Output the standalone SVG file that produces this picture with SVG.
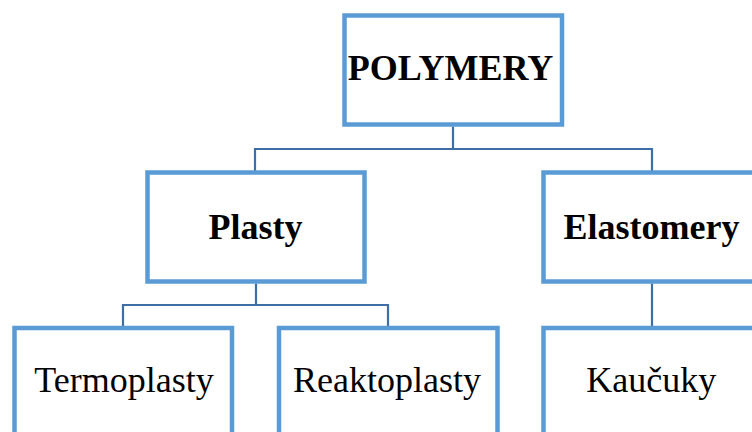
<svg xmlns="http://www.w3.org/2000/svg" width="752" height="432" viewBox="0 0 752 432">
<style>
.box{fill:#FFFFFF;stroke:#5B9BD5;stroke-width:4.5}
.conn{fill:none;stroke:#3E6EA6;stroke-width:2.2}
.t{font-family:"Liberation Serif","Times New Roman",serif;fill:#000000;text-anchor:middle}
.b{font-weight:bold}
</style>
<rect width="752" height="432" fill="#FFFFFF"/>
<g id="connectors">
<path class="conn" d="M453,126.5 V149 M255,172 V149 H652 V172"/>
<path class="conn" d="M256,283.5 V305 M123,327 V305 H388 V327"/>
<path class="conn" d="M652,283.5 V327"/>
</g>
<g id="polymery">
<rect class="box" x="344.5" y="15.5" width="217.5" height="109"/>
<text class="t b" x="450.5" y="79.5" font-size="36">POLYMERY</text>
</g>
<g id="plasty">
<rect class="box" x="147.5" y="172.5" width="217" height="109"/>
<text class="t b" x="255.5" y="239" font-size="36">Plasty</text>
</g>
<g id="elastomery">
<rect class="box" x="543.5" y="172.5" width="217" height="109"/>
<text class="t b" x="651.5" y="239" font-size="36">Elastomery</text>
</g>
<g id="termoplasty">
<rect class="box" x="14.5" y="328" width="217.5" height="120"/>
<text class="t" x="124" y="392.3" font-size="36">Termoplasty</text>
</g>
<g id="reaktoplasty">
<rect class="box" x="279" y="328" width="218.5" height="120"/>
<text class="t" x="387" y="392.3" font-size="36">Reaktoplasty</text>
</g>
<g id="kaucuky">
<rect class="box" x="543.5" y="328" width="217" height="120"/>
<text class="t" x="651.3" y="392.3" font-size="36">Kaučuky</text>
</g>
</svg>
